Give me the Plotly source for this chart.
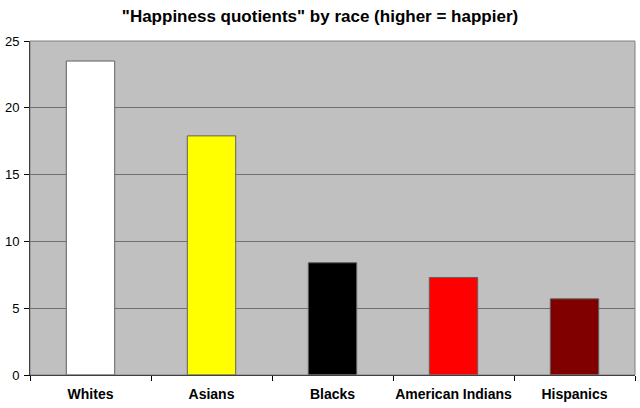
import plotly.graph_objects as go

# Daten
races = ["Whites", "Asians", "Blacks", "American Indians", "Hispanics"]
happiness = [23.5, 17.9, 8.4, 7.3, 5.7]
bar_colors = ["#FFFFFF", "#FFFF00", "#000000", "#FF0000", "#800000"]
y_ticks = [0, 5, 10, 15, 20, 25]

fig = go.Figure()
fig.add_trace(go.Bar(
    x=races, y=happiness,
    marker=dict(color=bar_colors, line=dict(color="#606060", width=1)),
    width=0.4,
    showlegend=False,
))

fig.update_layout(
    width=640, height=408,
    margin=dict(l=30, r=5, t=41, b=33),
    paper_bgcolor="white",
    plot_bgcolor="#C0C0C0",
    font=dict(family="Arial, Liberation Sans", size=13, color="black"),
    title=dict(
        text="<b>\"Happiness quotients\" by race (higher = happier)</b>",
        x=0.5, xanchor="center", y=0.96, yanchor="middle",
        font=dict(size=17, color="black"),
    ),
    xaxis=dict(
        showgrid=False, ticks="outside", tickson="boundaries", ticklen=5,
        tickcolor="black", showline=True, linecolor="#000000", linewidth=1,
        tickfont=dict(size=14, color="black"),
        tickprefix="<b>", ticksuffix="</b>",
        tickangle=0, ticklabelstandoff=6,
        automargin=False,
    ),
    yaxis=dict(
        range=[0, 25], tickvals=y_ticks, showgrid=True, gridcolor="#707070",
        gridwidth=1, ticks="outside", ticklen=5, tickcolor="black",
        showline=True, linecolor="#000000", linewidth=1,
        tickfont=dict(size=13, color="black"),
        tickprefix="<b>", ticksuffix="</b>",
        ticklabelstandoff=2,
        zeroline=False, automargin=False,
    ),
    shapes=[dict(type="rect", xref="paper", yref="paper", x0=0, x1=1, y0=0, y1=1,
                 line=dict(color="#808080", width=1))],
)

# Seitenrand des Browsers entfernen, damit der Plot bei 0,0 beginnt
fig.write_html("out.html", config={"displayModeBar": False},
               post_script="document.body.style.margin='0';")
